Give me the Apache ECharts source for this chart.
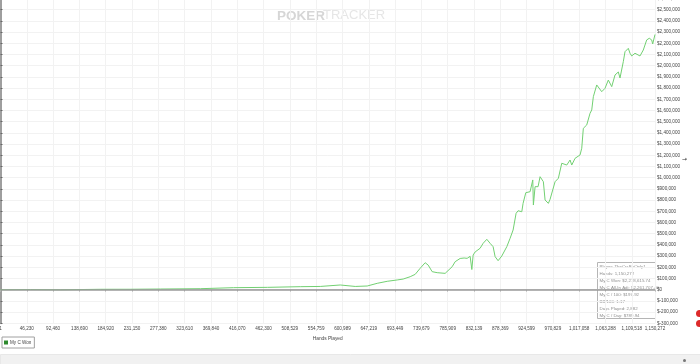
<!DOCTYPE html>
<html>
<head>
<meta charset="utf-8">
<script src="https://cdn.jsdelivr.net/npm/echarts@6/dist/echarts.min.js"></script>
<style>
html,body{margin:0;padding:0;background:#fff;}
#c{width:700px;height:364px;}
</style>
</head>
<body>
<div id="c"></div>
<script>
// Hands played (x) and cumulative winnings (y)
const hands = [1, 52683, 105366, 175610, 228293, 280976, 351220, 409171, 468879, 526830,
  561952, 597074, 623416, 644489, 662050, 679611, 697172, 707708, 720001, 728782,
  737562, 746343, 751611, 758635, 767416, 781465, 784977, 793757, 799026, 807806,
  814830, 820099, 825367, 828352, 830635, 834148, 842928, 848196, 854694, 860489,
  865757, 869270, 874538, 881036, 889816, 895611, 900879, 906148, 909660, 916157,
  918440, 923182, 930733, 935474, 936528, 939514, 944782, 948294, 951279, 954089,
  957075, 962870, 965855, 974636, 980431, 986401, 995182, 1000977, 1003962, 1009758,
  1018538, 1021523, 1024333, 1030304, 1036099, 1039084, 1041894, 1047865, 1050675, 1056645,
  1062441, 1068236, 1074206, 1080002, 1085797, 1088782, 1094577, 1097563, 1103358, 1106343,
  1109328, 1115124, 1123904, 1129699, 1135670, 1140236, 1144450, 1146206, 1150272];
const won = [0, 1000, -1000, 3600, 4000, 6000, 9000, 18000, 21000, 27000,
  29000, 42000, 29000, 33000, 57000, 75000, 87000, 95000, 116000, 137000,
  191000, 241000, 220000, 161000, 152000, 146000, 137000, 205000, 250000, 279000,
  283000, 280000, 298000, 180000, 310000, 337000, 370000, 414000, 450000, 414000,
  384000, 295000, 259000, 301000, 384000, 459000, 533000, 682000, 705000, 696000,
  771000, 866000, 875000, 980000, 756000, 920000, 920000, 1009000, 1024000, 964000,
  801000, 771000, 807000, 964000, 995000, 1129000, 1113000, 1158000, 1113000, 1173000,
  1203000, 1263000, 1441000, 1471000, 1575000, 1605000, 1723000, 1828000, 1843000, 1768000,
  1798000, 1872000, 1813000, 1917000, 1944000, 1890000, 2036000, 2125000, 2155000, 2111000,
  2087000, 2111000, 2087000, 2140000, 2230000, 2245000, 2230000, 2194000, 2278616];
const xTickLabels = ['1', '46,230', '92,460', '138,690', '184,920', '231,150', '277,380',
  '323,610', '369,840', '416,070', '462,300', '508,529', '554,759', '600,989', '647,219',
  '693,449', '739,679', '785,909', '832,139', '878,369', '924,599', '970,829', '1,017,058',
  '1,063,288', '1,109,518', '1,150,272'];
const seriesName = 'My C Won';
const infoLines = ['Player: TheCrsBeOnly1', 'Hands: 1,150,272', 'My C Won: $2,278,615.74',
  'My C All-In Adj: $2,261,707.40', 'My C / 100: $197.92', 'BB/100: 1.17',
  'Days Played: 2,882', 'My C / Day: $789.94'];

const data = hands.map((h, i) => [h, won[i]]);
const FONT = 'Liberation Sans, Arial, sans-serif';

function money(v) {
  const s = Math.abs(v).toLocaleString('en-US');
  return '$' + (v < 0 ? '-' : '') + s;
}

const chart = echarts.init(document.getElementById('c'), null, {renderer: 'canvas'});

const infoGraphics = [{
  type: 'rect', shape: {x: 0, y: 0, width: 58, height: 56},
  style: {fill: 'rgba(255,255,255,0.88)', stroke: '#b5b5b5', lineWidth: 1}
}].concat(infoLines.map((t, i) => ({
  type: 'text',
  style: {text: t, x: 2, y: 4 + i * 7.1, fontSize: 4.4, fontFamily: FONT, fill: '#8f8f8f', verticalAlign: 'middle'}
})));

chart.setOption({
  animation: false,
  backgroundColor: '#fff',
  grid: {left: 0.5, right: 45, top: -1.5, bottom: 40.7, containLabel: false, outerBoundsMode: 'none'},
  legend: {
    left: 2, top: 337,
    data: [{name: seriesName, itemStyle: {color: '#2e8a2e'}}],
    icon: 'rect', itemWidth: 4, itemHeight: 4, itemGap: 4,
    padding: [3, 3, 3, 2],
    borderColor: '#a0a0a0', borderWidth: 1, backgroundColor: '#fff',
    textStyle: {fontSize: 4.6, color: '#444', fontFamily: FONT, padding: [0, 0, 0, -3]}
  },
  xAxis: {
    type: 'value', min: 0, max: 1150272, interval: 46230,
    name: 'Hands Played', nameLocation: 'middle', nameGap: 10,
    nameTextStyle: {fontSize: 4.8, color: '#444', fontFamily: FONT},
    axisLine: {show: true, lineStyle: {color: '#d8d8d8', width: 1}},
    axisTick: {show: true, length: 2, lineStyle: {color: '#bbb'}},
    splitLine: {show: true, lineStyle: {color: '#f2f2f2', width: 1}},
    axisLabel: {
      fontSize: 4.6, color: '#444', fontFamily: FONT, margin: 2.5,
      showMinLabel: true, showMaxLabel: true, hideOverlap: false,
      formatter: v => xTickLabels[Math.round(v / 46230)]
    }
  },
  yAxis: [{
    type: 'value', position: 'right', min: -300000, max: 2600000, interval: 100000,
    axisLine: {show: true, lineStyle: {color: '#ababab', width: 2}},
    axisTick: {show: true, length: 2, lineStyle: {color: '#666'}},
    splitLine: {show: true, lineStyle: {color: '#f2f2f2', width: 1}},
    axisLabel: {fontSize: 4.6, color: '#444', fontFamily: FONT, margin: 2, formatter: money}
  }, {
    type: 'value', position: 'left', min: -300000, max: 2600000, interval: 100000,
    axisLine: {show: true, lineStyle: {color: '#9a9a9a', width: 1.5}},
    axisTick: {show: false}, axisLabel: {show: false}, splitLine: {show: false}
  }],
  series: [{
    name: seriesName, type: 'line', data: data, yAxisIndex: 0,
    showSymbol: false, symbol: 'none',
    lineStyle: {color: '#72d072', width: 1},
    itemStyle: {color: '#72d072'},
    markLine: {
      silent: true, symbol: 'none', label: {show: false},
      lineStyle: {color: '#9a9a9a', width: 1.5, type: 'solid'},
      data: [{yAxis: 0}]
    },
    z: 3
  }],
  graphic: [
    {type: 'text', left: 277, top: 9, z: 0,
     style: {text: 'POKER', fontSize: 13.5, fontWeight: 'bold', fontFamily: FONT, fill: '#d6d6d6'}},
    {type: 'text', left: 323, top: 9, z: 0,
     style: {text: 'TRACKER', fontSize: 13, fontFamily: FONT, fill: '#e6e6e6'}},
    {type: 'group', left: 597, top: 262, z: 10, children: infoGraphics},
    {type: 'rect', left: 0, top: 354, z: 0,
     shape: {width: 700, height: 10}, style: {fill: '#f1f1f1', stroke: '#e8e8e8', lineWidth: 1}},
    {type: 'circle', left: 696, top: 310, z: 10, shape: {r: 3.5}, style: {fill: '#dd2a2a'}},
    {type: 'circle', left: 696, top: 320, z: 10, shape: {r: 3.5}, style: {fill: '#dd2a2a'}},
    {type: 'circle', left: 683, top: 359, z: 10, shape: {r: 1.5}, style: {fill: '#777'}},
    {type: 'text', left: 682, top: 156, z: 10,
     style: {text: '→', fontSize: 6, fontFamily: 'DejaVu Sans', fill: '#333'}}
  ]
});
</script>
</body>
</html>
